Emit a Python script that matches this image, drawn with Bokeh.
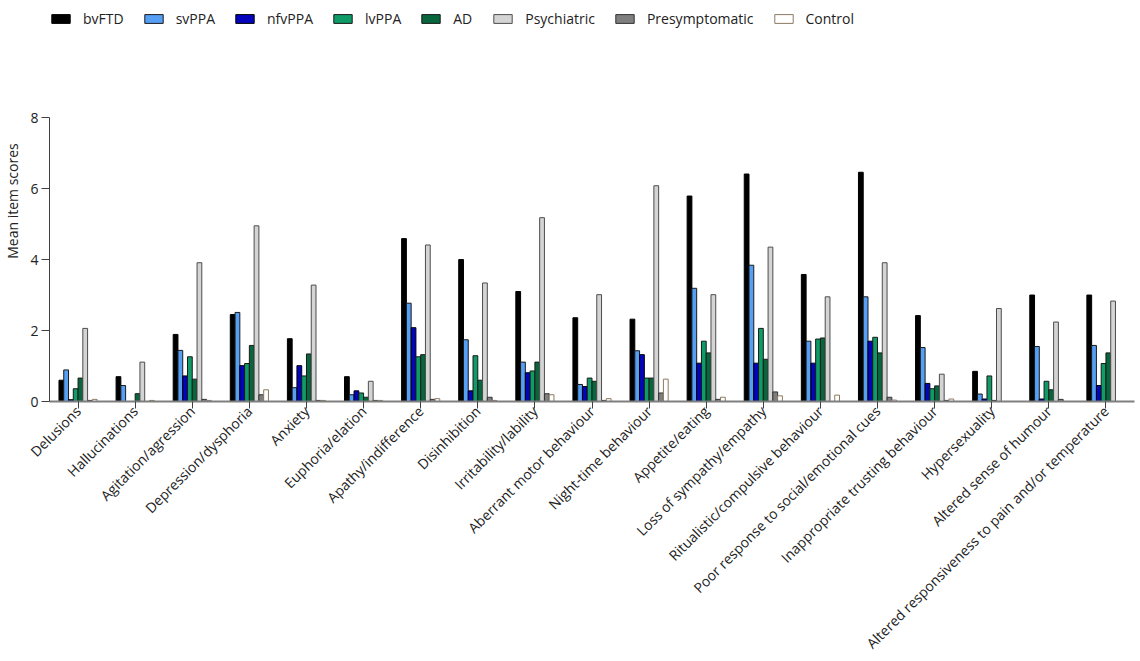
from bokeh.plotting import figure
from bokeh.models import ColumnDataSource, FactorRange, Legend, LegendItem
from bokeh.transform import dodge
from bokeh.embed import file_html
from bokeh.resources import INLINE

# Behavioural items (x-axis categories)
items = [
    "Delusions", "Hallucinations", "Agitation/agression", "Depression/dysphoria",
    "Anxiety", "Euphoria/elation", "Apathy/indifference", "Disinhibition",
    "Irritability/lability", "Aberrant motor behaviour", "Night-time behaviour",
    "Appetite/eating", "Loss of sympathy/empathy", "Ritualistic/compulsive behaviour",
    "Poor response to social/emotional cues", "Inappropriate trusting behaviour",
    "Hypersexuality", "Altered sense of humour",
    "Altered responsiveness to pain and/or temperature",
]

# Mean item scores per diagnostic group
bvFTD = [0.60, 0.70, 1.89, 2.45, 1.77, 0.70, 4.59, 4.00, 3.10, 2.36, 2.32, 5.79, 6.41, 3.58, 6.46, 2.42, 0.85, 3.00, 3.00]
svPPA = [0.89, 0.45, 1.44, 2.51, 0.39, 0.19, 2.77, 1.74, 1.11, 0.48, 1.43, 3.19, 3.84, 1.70, 2.95, 1.52, 0.21, 1.55, 1.58]
nfvPPA = [0.05, 0.00, 0.72, 1.01, 1.01, 0.30, 2.08, 0.30, 0.81, 0.42, 1.32, 1.08, 1.08, 1.08, 1.70, 0.51, 0.07, 0.07, 0.45]
lvPPA = [0.36, 0.00, 1.26, 1.07, 0.72, 0.24, 1.26, 1.29, 0.86, 0.66, 0.66, 1.70, 2.06, 1.76, 1.81, 0.36, 0.72, 0.57, 1.07]
AD = [0.66, 0.22, 0.63, 1.58, 1.34, 0.12, 1.32, 0.60, 1.11, 0.57, 0.66, 1.37, 1.19, 1.79, 1.37, 0.44, 0.03, 0.33, 1.37]
Psychiatric = [2.06, 1.11, 3.91, 4.95, 3.28, 0.57, 4.41, 3.34, 5.18, 3.01, 6.08, 3.01, 4.35, 2.95, 3.91, 0.77, 2.62, 2.24, 2.83]
Presymptomatic = [0.03, 0.00, 0.06, 0.19, 0.03, 0.03, 0.06, 0.12, 0.22, 0.03, 0.24, 0.06, 0.27, 0.00, 0.12, 0.03, 0.00, 0.06, 0.00]
Control = [0.06, 0.03, 0.03, 0.33, 0.03, 0.03, 0.08, 0.03, 0.19, 0.08, 0.63, 0.12, 0.16, 0.18, 0.04, 0.07, 0.00, 0.00, 0.00]

groups = ["bvFTD", "svPPA", "nfvPPA", "lvPPA", "AD", "Psychiatric", "Presymptomatic", "Control"]
fills = ["#000000", "#559ff5", "#0404bd", "#0f9b67", "#07663c", "#d4d4d4", "#7f7f7f", "#ffffff"]
edges = ["#000000", "#1a1a1a", "#000000", "#1a1a1a", "#1a1a1a", "#4d4d4d", "#333333", "#8c7a60"]

source = ColumnDataSource(dict(
    item=items, bvFTD=bvFTD, svPPA=svPPA, nfvPPA=nfvPPA, lvPPA=lvPPA, AD=AD,
    Psychiatric=Psychiatric, Presymptomatic=Presymptomatic, Control=Control,
))

FONT = "Open Sans"
Y_MAX = 8
# headroom above the axis so the legend sits inside the plotting frame
Y_TOP = 11.3

p = figure(
    x_range=FactorRange(factors=items), y_range=(0, Y_TOP),
    width=1140, height=661, output_backend="svg", toolbar_location=None,
    min_border_left=49, min_border_right=6, min_border_top=0, min_border_bottom=260,
)

bar_w = 0.0835
renderers = []
for j, (g, fc, lc) in enumerate(zip(groups, fills, edges)):
    r = p.vbar(
        x=dodge("item", (j - 3.5) * bar_w, range=p.x_range), top=g, width=bar_w,
        bottom=0, source=source, fill_color=fc, line_color=lc, line_width=1,
    )
    renderers.append(r)

legend = Legend(
    items=[LegendItem(label=g, renderers=[r]) for g, r in zip(groups, renderers)],
    orientation="horizontal", location=(0, 373),
    glyph_width=23, glyph_height=11, label_standoff=11, spacing=18,
    padding=0, margin=0, border_line_alpha=0, background_fill_alpha=0,
    label_text_font=FONT, label_text_font_size="14px", label_text_color="#222222",
    label_height=20,
)
p.add_layout(legend, "center")

p.outline_line_color = None
p.xgrid.grid_line_color = None
p.ygrid.grid_line_color = None
p.background_fill_color = "white"
p.border_fill_color = "white"

# y axis, drawn only over the 0-8 score range
p.yaxis.bounds = (0, Y_MAX)
p.yaxis.ticker = [0, 2, 4, 6, 8]
p.yaxis.axis_label = "Mean item scores"
p.yaxis.axis_label_text_font = FONT
p.yaxis.axis_label_text_font_size = "14px"
p.yaxis.axis_label_text_font_style = "normal"
p.yaxis.axis_label_text_color = "#222222"
p.yaxis.axis_label_standoff = 5
p.yaxis.major_label_text_font = FONT
p.yaxis.major_label_text_font_size = "14px"
p.yaxis.major_label_text_color = "#222222"
p.yaxis.major_label_standoff = 3
p.yaxis.axis_line_color = "#404040"
p.yaxis.major_tick_line_color = "#404040"
p.yaxis.major_tick_out = 8
p.yaxis.major_tick_in = 0
p.yaxis.minor_tick_line_color = None

# x axis with slanted item names
p.xaxis.major_label_orientation = 0.785398
p.xaxis.major_label_text_font = FONT
p.xaxis.major_label_text_font_size = "14px"
p.xaxis.major_label_text_color = "#222222"
p.xaxis.major_label_standoff = 0
p.xaxis.axis_line_color = "#7f7f7f"
p.xaxis.axis_line_width = 2
p.xaxis.major_tick_line_color = "#404040"
p.xaxis.major_tick_out = 7
p.xaxis.major_tick_in = 0

open("out.html", "w").write(file_html(p, INLINE))
